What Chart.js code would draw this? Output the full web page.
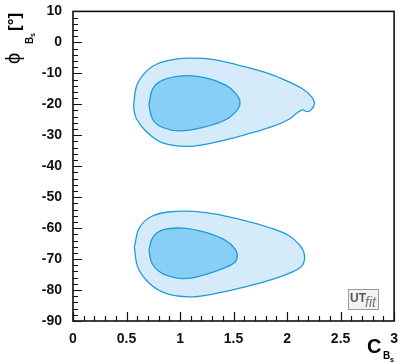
<!DOCTYPE html>
<html><head><meta charset="utf-8">
<script src="https://cdn.jsdelivr.net/npm/chart.js@4/dist/chart.umd.min.js"></script>
<style>html,body{margin:0;padding:0;background:#fff;}#wrap{width:400px;height:364px;}</style>
</head><body><div id="wrap"><canvas id="c" width="400" height="364"></canvas></div>
<script>
// Axis tick labels
const xTickLabels = ['0', '0.5', '1', '1.5', '2', '2.5', '3'];
const yTickLabels = ['10', '0', '-10', '-20', '-30', '-40', '-50', '-60', '-70', '-80', '-90'];

// Contours (C_Bs, phi_Bs)
const upperOuterX = [0.566, 0.59, 0.653, 0.74, 0.838, 0.96, 1.086, 1.303, 1.55, 1.83, 1.98, 2.14, 2.23, 2.256, 2.226, 2.185, 2.145, 2.09, 2.01, 1.86, 1.61, 1.365, 1.086, 0.838, 0.684, 0.59, 0.566];
const upperOuterY = [-20.8, -14.5, -10.6, -7.8, -6.3, -5.4, -5.1, -5.5, -7.4, -10.1, -12.2, -14.9, -17.6, -19.7, -21.8, -22.4, -21.8, -22.9, -25.0, -27.2, -29.8, -32.0, -33.6, -32.5, -28.8, -24.5, -20.8];
const upperInnerX = [0.709, 0.746, 0.838, 1.024, 1.241, 1.427, 1.52, 1.56, 1.535, 1.427, 1.21, 0.994, 0.838, 0.746, 0.709];
const upperInnerY = [-20.2, -14.9, -12.2, -10.8, -11.5, -13.8, -16.5, -19.2, -21.8, -25.0, -27.5, -28.6, -27.5, -25.0, -20.2];
const lowerOuterX = [0.573, 0.622, 0.746, 0.963, 1.241, 1.55, 1.83, 2.015, 2.12, 2.163, 2.14, 2.045, 1.83, 1.55, 1.303, 1.086, 0.87, 0.715, 0.606, 0.573];
const lowerOuterY = [-66.2, -59.8, -56.0, -54.6, -55.0, -57.1, -59.8, -62.4, -65.6, -68.8, -72.1, -74.2, -76.9, -79.5, -81.3, -82.2, -81.1, -77.9, -72.6, -66.2];
const lowerInnerX = [0.709, 0.746, 0.838, 1.024, 1.241, 1.427, 1.513, 1.535, 1.513, 1.396, 1.21, 1.024, 0.838, 0.74, 0.709];
const lowerInnerY = [-67.2, -63.0, -60.6, -60.0, -61.4, -64.0, -66.7, -68.8, -71.0, -73.1, -75.3, -76.3, -74.7, -71.5, -67.2];

const toPts = (xs, ys) => xs.map((x, i) => ({x: x, y: ys[i]}));
const OUTER = '#d5ebfa', INNER = '#88cff5', LINE = '#1f9bdb';
function contour(xs, ys, fillCol, order) {
  return {data: toPts(xs, ys), showLine: true, fill: 'shape', backgroundColor: fillCol,
    borderColor: LINE, borderWidth: 1.3, pointRadius: 0, tension: 0.4, order: order};
}

const FONT = '"Liberation Sans", Arial, Helvetica, sans-serif';

const framePlugin = {
  id: 'frame',
  afterDraw(chart) {
    const ctx = chart.ctx, a = chart.chartArea;
    const xs = chart.scales.x, ys = chart.scales.y;
    ctx.save();
    ctx.strokeStyle = '#111';
    ctx.lineWidth = 1.2;
    // minor/major ticks (inward)
    ctx.beginPath();
    for (let i = -45; i <= 5; i++) {
      const v = i * 2;
      const p = Math.round(ys.getPixelForValue(v)) + 0.5;
      const len = (v % 10 === 0) ? 9 : 5;
      ctx.moveTo(a.left, p); ctx.lineTo(a.left + len, p);
    }
    for (let i = 0; i <= 30; i++) {
      const v = i / 10;
      const p = Math.round(xs.getPixelForValue(v)) + 0.5;
      const len = (i % 5 === 0) ? 9 : 5;
      ctx.moveTo(p, a.bottom); ctx.lineTo(p, a.bottom - len);
    }
    ctx.stroke();
    ctx.lineWidth = 1.6;
    ctx.strokeStyle = '#111';
    ctx.strokeRect(a.left, a.top, a.right - a.left, a.bottom - a.top);

    // Logo
    ctx.fillStyle = '#f2f2f2';
    ctx.fillRect(348, 289, 31, 21);
    ctx.lineWidth = 1;
    ctx.strokeStyle = '#999';
    ctx.strokeRect(348.5, 289.5, 30, 20);
    ctx.fillStyle = '#555';
    ctx.textBaseline = 'alphabetic';
    ctx.textAlign = 'left';
    ctx.font = 'bold 12px ' + FONT;
    ctx.fillText('UT', 350, 302);
    ctx.fillStyle = '#777';
    ctx.font = 'italic 14px ' + FONT;
    ctx.fillText('fit', 365, 307);

    // x title C_Bs
    ctx.fillStyle = '#000';
    ctx.font = 'bold 20px ' + FONT;
    ctx.fillText('C', 367, 353);
    ctx.font = 'bold 10px ' + FONT;
    ctx.fillText('B', 383, 359);
    ctx.font = 'bold 7px ' + FONT;
    ctx.fillText('s', 390, 362);

    // y title phi_Bs [°]
    ctx.save();
    ctx.translate(20, 64);
    ctx.rotate(-Math.PI / 2);
    ctx.font = '20px ' + FONT;
    ctx.fillText('\u03D5', 0, 0);
    ctx.font = 'bold 10px ' + FONT;
    ctx.fillText('B', 20, 13);
    ctx.font = 'bold 7px ' + FONT;
    ctx.fillText('s', 27, 15);
    ctx.font = 'bold 17px ' + FONT;
    ctx.fillText('[\u00B0]', 33, 0);
    ctx.restore();
    ctx.restore();
  }
};

new Chart(document.getElementById('c'), {
  type: 'scatter',
  data: {
    datasets: [
      contour(upperInnerX, upperInnerY, INNER, 1),
      contour(lowerInnerX, lowerInnerY, INNER, 1),
      contour(upperOuterX, upperOuterY, OUTER, 2),
      contour(lowerOuterX, lowerOuterY, OUTER, 2)
    ]
  },
  options: {
    responsive: false,
    animation: false,
    devicePixelRatio: 1,
    layout: {padding: {top: 9, right: 4, left: 0, bottom: 0}},
    plugins: {legend: {display: false}, tooltip: {enabled: false}},
    scales: {
      x: {
        type: 'linear', min: 0, max: 3,
        grid: {display: false}, border: {display: false},
        ticks: {stepSize: 0.5, padding: 2, color: '#111', maxRotation: 0, autoSkip: false,
          font: {family: FONT, size: 14, weight: 'bold'},
          callback: (v) => { const i = Math.round(v * 2); return xTickLabels[i]; }},
        afterFit: (s) => { s.height = 43; }
      },
      y: {
        type: 'linear', min: -90, max: 10,
        grid: {display: false}, border: {display: false},
        ticks: {stepSize: 10, padding: 3, color: '#111', autoSkip: false,
          font: {family: FONT, size: 14, weight: 'bold'},
          callback: (v) => { const i = Math.round((10 - v) / 10); return yTickLabels[i]; }},
        afterFit: (s) => { s.width = 73; }
      }
    }
  },
  plugins: [framePlugin]
});
</script>
</body></html>
